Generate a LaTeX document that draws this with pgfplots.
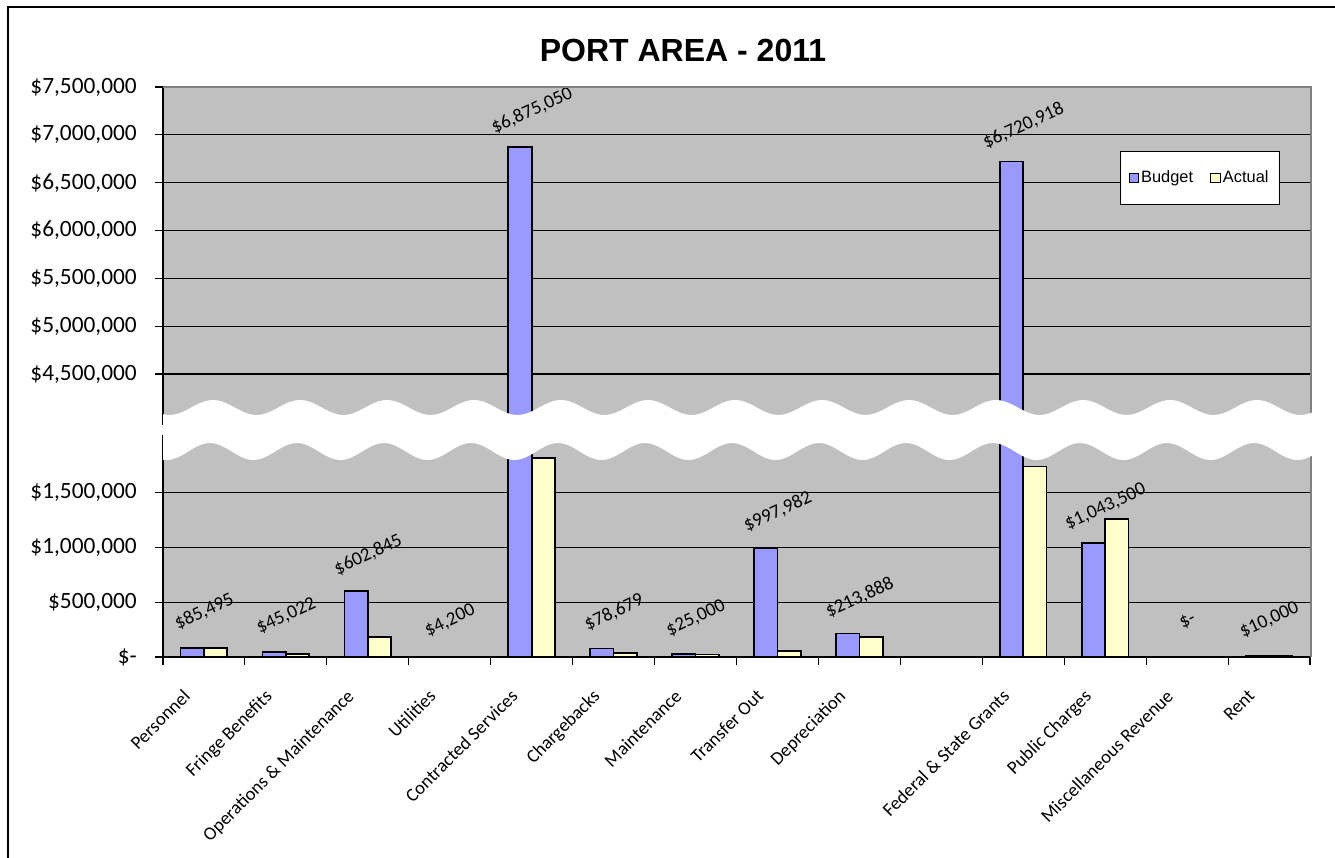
\documentclass[border=0pt]{standalone}
\usepackage{fontspec}
\setmainfont{Carlito}
\newfontfamily\arialfont{Liberation Sans}
\usepackage{pgfplots}
\pgfplotsset{compat=1.18}
\usepackage{pgfplotstable}

\definecolor{plotgray}{HTML}{C0C0C0}
\definecolor{budgetblue}{HTML}{9999FF}
\definecolor{actualyellow}{HTML}{FFFFCC}
\definecolor{bordergray}{HTML}{808080}

% x = category index (9 is the empty slot), lowlab/highlab = labels shown in the lower/upper part
\pgfplotstableread{
x budget actual lowlab highlab
0 85495 82000 {\$85,495} {}
1 45022 28000 {\$45,022} {}
2 602845 185000 {\$602,845} {}
3 4200 2000 {\$4,200} {}
4 6875050 1817000 {} {\$6,875,050}
5 78679 37000 {\$78,679} {}
6 25000 22000 {\$25,000} {}
7 997982 58000 {\$997,982} {}
8 213888 185000 {\$213,888} {}
10 6720918 1740000 {} {\$6,720,918}
11 1043500 1257000 {\$1,043,500} {}
12 0 0 {\$-} {}
13 10000 9000 {\$10,000} {}
}\portdata

\pgfplotsset{
  portaxis/.style={
    scale only axis, width=860.25pt, anchor=south west,
    xmin=-0.5, xmax=13.5,
    ybar=0pt, bar width=17.5pt,
    axis background/.style={fill=plotgray},
    axis y line*=left,
    axis line style={black, line width=1pt},
    ymajorgrids, major grid style={black, line width=0.8pt},
    tick align=outside, major tick length=6pt, minor tick length=6pt,
    ytick style={black, line width=0.8pt},
    scaled y ticks=false,
    yticklabel style={font=\fontsize{17.5}{20}\selectfont, anchor=east, inner sep=0pt, xshift=-13.5pt},
  },
  budgetbars/.style={fill=budgetblue, draw=black, line width=1.3pt,
    point meta=explicit symbolic, nodes near coords,
    every node near coord/.append style={font=\fontsize{14.3}{16}\selectfont, black, inner sep=0pt,
      xshift=9pt, yshift=27pt, rotate=25, anchor=center}},
  actualbars/.style={fill=actualyellow, draw=black, line width=1.3pt},
}

\begin{document}
\begin{tikzpicture}
% lower part: $- to about $2,000,000
\begin{axis}[portaxis, at={(122.25pt,150pt)}, height=166.5pt,
  ymin=0, ymax=2026600,
  ytick={0,500000,1000000,1500000},
  yticklabels={\$-,{\$500,000},{\$1,000,000},{\$1,500,000}},
  axis x line*=bottom,
  xtick={0,...,13},
  xticklabels={Personnel,Fringe Benefits,Operations \& Maintenance,Utilities,Contracted Services,Chargebacks,Maintenance,Transfer Out,Depreciation,{},Federal \& State Grants,Public Charges,Miscellaneous Revenue,Rent},
  major x tick style={draw=none},
  minor xtick={-0.5,0.5,...,13.5},
  minor x tick style={black, line width=0.8pt},
  xticklabel style={font=\fontsize{14}{16}\selectfont, inner sep=0pt, anchor=north east,
    xshift=-16.5pt, yshift=-17.25pt, rotate=45},
]
\addplot[budgetbars] table[x=x, y=budget, meta=lowlab] {\portdata};
\addplot[actualbars] table[x=x, y=actual] {\portdata};
\end{axis}
% upper part: about $4,000,000 to $7,500,000
\begin{axis}[portaxis, at={(122.25pt,324pt)}, height=253.5pt,
  ymin=3967000, ymax=7500000,
  ytick={4500000,5000000,5500000,6000000,6500000,7000000,7500000},
  yticklabels={{\$4,500,000},{\$5,000,000},{\$5,500,000},{\$6,000,000},{\$6,500,000},{\$7,000,000},{\$7,500,000}},
  axis x line=none, xtick=\empty,
  legend style={at={(0.904,0.731)}, anchor=center, draw=black, line width=0.6pt, fill=white,
    font=\arialfont\fontsize{12.3}{14}\selectfont, inner xsep=6pt, inner ysep=13pt},
  legend columns=2,
  legend image code/.code={\draw[#1, line width=0.6pt] (0pt,-3.4pt) rectangle (6.8pt,3.4pt);},
  /tikz/every even column/.append style={column sep=11pt},
]
\addplot[budgetbars] table[x=x, y=budget, meta=highlab] {\portdata};
\addplot[actualbars] table[x=x, y=actual] {\portdata};
\legend{Budget,Actual}
\end{axis}
% pixel frame: origin at the top left, 1 px = 0.75 pt
\begin{scope}[shift={(0pt,642.75pt)}, x=0.75pt, y=-0.75pt]
  \draw[bordergray, line width=1.5pt] (163,87) -- (1311,87) -- (1311,657);
  \fill[white] plot[domain=163:1340, samples=300] (\x, {407.5-7.5*cos(4.13793*(\x-213))})
    -- plot[domain=1340:163, samples=300] (\x, {451.5-8.5*cos(4.13793*(\x-210))}) -- cycle;
  \node[font=\arialfont\bfseries\fontsize{24}{28}\selectfont] at (683,50) {PORT AREA - 2011};
  \draw[black, line width=1.5pt] (8,7) rectangle (1345,870);
\end{scope}
\pgfresetboundingbox
\path[use as bounding box] (0pt,0pt) rectangle (1001.25pt,642.75pt);
\end{tikzpicture}
\end{document}
